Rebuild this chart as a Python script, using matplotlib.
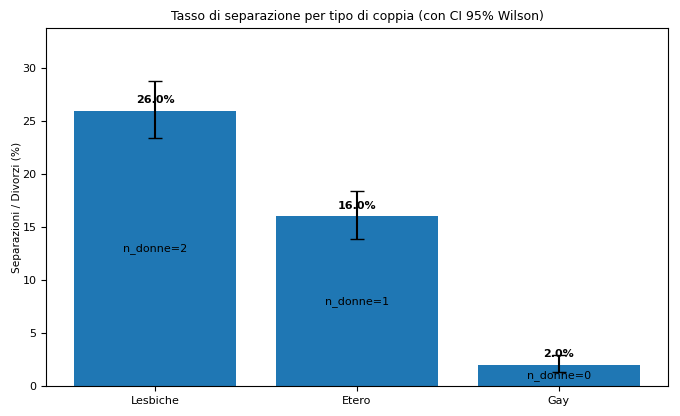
import numpy as np
import matplotlib.pyplot as plt

categorie = ["Lesbiche", "Etero", "Gay"]
tassi = [26.0, 16.0, 2.0]
ci_basso = [23.4, 13.9, 1.3]
ci_alto = [28.8, 18.4, 2.9]
n_donne = [2, 1, 0]

err = np.array([[t - lo for t, lo in zip(tassi, ci_basso)],
                [hi - t for t, hi in zip(tassi, ci_alto)]])

plt.rcParams['font.size'] = 8
fig, ax = plt.subplots(figsize=(6.8, 4.16), dpi=100)
x = np.arange(len(categorie))
ax.bar(x, tassi, color='#1f77b4', width=0.8)
for i, t in enumerate(tassi):
    ax.text(x[i], t + 1, f"{t:.1f}%", ha='center', va='center', fontweight='bold', fontsize=8)
    ax.text(x[i], t / 2, f"n_donne={n_donne[i]}", ha='center', va='center', fontsize=8)
ax.errorbar(x, tassi, yerr=err, fmt='none', ecolor='black', capsize=5, elinewidth=1.5, zorder=5)
ax.set_xticks(x)
ax.set_xticklabels(categorie)
ax.set_ylim(0, 33.8)
ax.set_ylabel("Separazioni / Divorzi (%)", fontsize=7.6, labelpad=0.5)
ax.set_title("Tasso di separazione per tipo di coppia (con CI 95% Wilson)", fontsize=9)
fig.subplots_adjust(left=0.068, right=0.982, top=0.933, bottom=0.072)
fig.savefig("out.png")
